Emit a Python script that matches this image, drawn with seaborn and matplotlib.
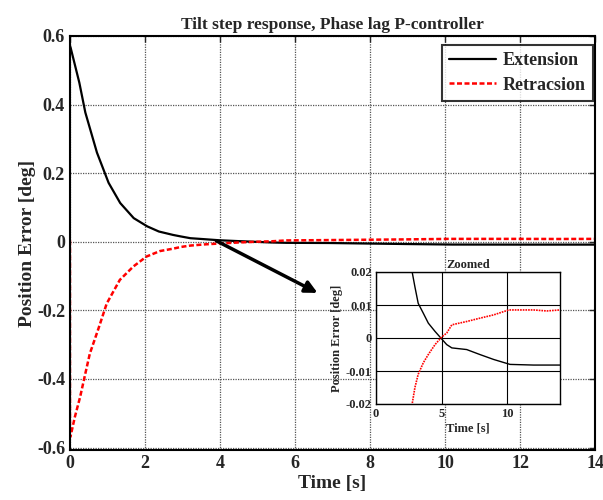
import numpy as np
import pandas as pd
import matplotlib
matplotlib.use("Agg")
import matplotlib.pyplot as plt
import seaborn as sns

# values
t_ext = [0, 0.02, 0.25, 0.41, 0.72, 1.03, 1.34, 1.7, 2.06, 2.37, 2.75, 2.96, 3.21, 3.6,
         3.98, 4.49, 5.0, 5.38, 5.77, 6.9, 7.9, 8.95, 10.2, 12, 14]
v_ext = [0.572, 0.565, 0.464, 0.377, 0.26, 0.172, 0.113, 0.069, 0.045, 0.030, 0.02, 0.0155,
         0.0105, 0.0075, 0.0045, 0.002, -0.0003, -0.002, -0.003, -0.0035, -0.005, -0.0065,
         -0.008, -0.0082, -0.0082]
t_ret = [0, 0, 0.02, 0.13, 0.27, 0.4, 0.53, 0.76, 0.98, 1.33, 1.69, 2.04, 2.4, 2.75, 2.96,
         3.21, 3.6, 3.98, 4.49, 5.0, 5.38, 5.77, 6.9, 7.9, 8.95, 10.1, 12, 13, 14]
v_ret = [0.0045, -0.57, -0.565, -0.511, -0.453, -0.389, -0.326, -0.253, -0.18, -0.111,
         -0.072, -0.043, -0.027, -0.02, -0.015, -0.011, -0.0075, -0.005, -0.002, 0.0003,
         0.0015, 0.004, 0.005, 0.006, 0.007, 0.0085, 0.0085, 0.0082, 0.0085]

main_xticks = [0, 2, 4, 6, 8, 10, 12, 14]
main_yticks = [-0.6, -0.4, -0.2, 0, 0.2, 0.4, 0.6]
main_ylabels = ["-0.6", "-0.4", "-0.2", "0", "0.2", "0.4", "0.6"]
zoom_xticks = [0, 5, 10]
zoom_yticks = [-0.02, -0.01, 0, 0.01, 0.02]
zoom_ylabels = ["-0.02", "-0.01", "0", "0.01", "0.02"]

sns.set_style("white")
plt.rcParams['font.family'] = ['Liberation Serif', 'DejaVu Serif']
plt.rcParams['font.weight'] = 'bold'
plt.rcParams['axes.labelweight'] = 'bold'
plt.rcParams['axes.titleweight'] = 'bold'

ext = pd.DataFrame({"t": t_ext, "v": v_ext})
ret = pd.DataFrame({"t": t_ret, "v": v_ret})

fig = plt.figure(figsize=(6.03, 5.0), dpi=100)
ax = fig.add_axes([0.116, 0.100, 0.871, 0.828])

red_dash = (0, (2.0, 1.0))
sns.lineplot(data=ext, x="t", y="v", ax=ax, color="black", lw=1.6,
             estimator=None, sort=False, label="Extension")
sns.lineplot(data=ret, x="t", y="v", ax=ax, color="red", lw=1.8, linestyle=red_dash,
             estimator=None, sort=False, label="Retracsion")

ax.set_xlim(0, 14)
ax.set_ylim(-0.607, 0.6)
ax.set_xticks(main_xticks)
ax.set_xticklabels([str(x) for x in main_xticks])
ax.set_yticks(main_yticks)
ax.set_yticklabels(main_ylabels)
ax.tick_params(direction="in", top=True, right=True, labelsize=13, length=4, width=1)
for lab in ax.get_xticklabels() + ax.get_yticklabels():
    lab.set_fontweight("bold")
ax.grid(True, color="#555555", linestyle=(0, (1, 1)), lw=0.9)
for s in ax.spines.values():
    s.set_linewidth(1.5)
    s.set_color("black")
ax.set_xlabel("Time [s]", fontsize=14, fontweight="bold", labelpad=2)
ax.set_ylabel("Position Error [deg]", fontsize=14, fontweight="bold", labelpad=1)
ax.set_title("Tilt step response, Phase lag P-controller", fontsize=12.5,
             fontweight="bold", pad=5)

leg = ax.legend(loc="upper right", bbox_to_anchor=(0.995, 0.978), fontsize=13,
                frameon=True, fancybox=False, handlelength=2.6, handletextpad=0.35,
                borderpad=0.4, labelspacing=0.4, borderaxespad=0.0)
leg.get_frame().set_edgecolor("black")
leg.get_frame().set_linewidth(1.5)
for txt in leg.get_texts():
    txt.set_fontweight("bold")

ax.annotate("", xy=(6.6, -0.149), xytext=(3.9, 0.003),
            arrowprops=dict(arrowstyle="-|>", color="black", lw=2.5,
                            mutation_scale=18, shrinkA=0, shrinkB=0))

# zoomed inset
axz = fig.add_axes([0.6236, 0.192, 0.305, 0.264])
axz.set_facecolor("white")
sns.lineplot(data=ext, x="t", y="v", ax=axz, color="black", lw=1.0,
             estimator=None, sort=False, legend=False)
sns.lineplot(data=ret, x="t", y="v", ax=axz, color="red", lw=1.2,
             linestyle=(0, (1.0, 0.6)), estimator=None, sort=False, legend=False)
axz.set_xlim(0, 14)
axz.set_ylim(-0.02, 0.02)
axz.set_xticks(zoom_xticks)
axz.set_xticklabels([str(x) for x in zoom_xticks])
axz.set_yticks(zoom_yticks)
axz.set_yticklabels(zoom_ylabels)
axz.tick_params(direction="in", labelsize=9, length=0, pad=3)
for lab in axz.get_xticklabels() + axz.get_yticklabels():
    lab.set_fontweight("bold")
axz.grid(True, color="black", linestyle="-", lw=0.8)
for s in axz.spines.values():
    s.set_linewidth(1.0)
    s.set_color("black")
axz.set_xlabel("Time [s]", fontsize=9, fontweight="bold", labelpad=2)
axz.set_ylabel("Position Error [deg]", fontsize=9, fontweight="bold", labelpad=2)
axz.set_title("Zoomed", fontsize=9, fontweight="bold", pad=3)

fig.savefig("out.png", dpi=100)
